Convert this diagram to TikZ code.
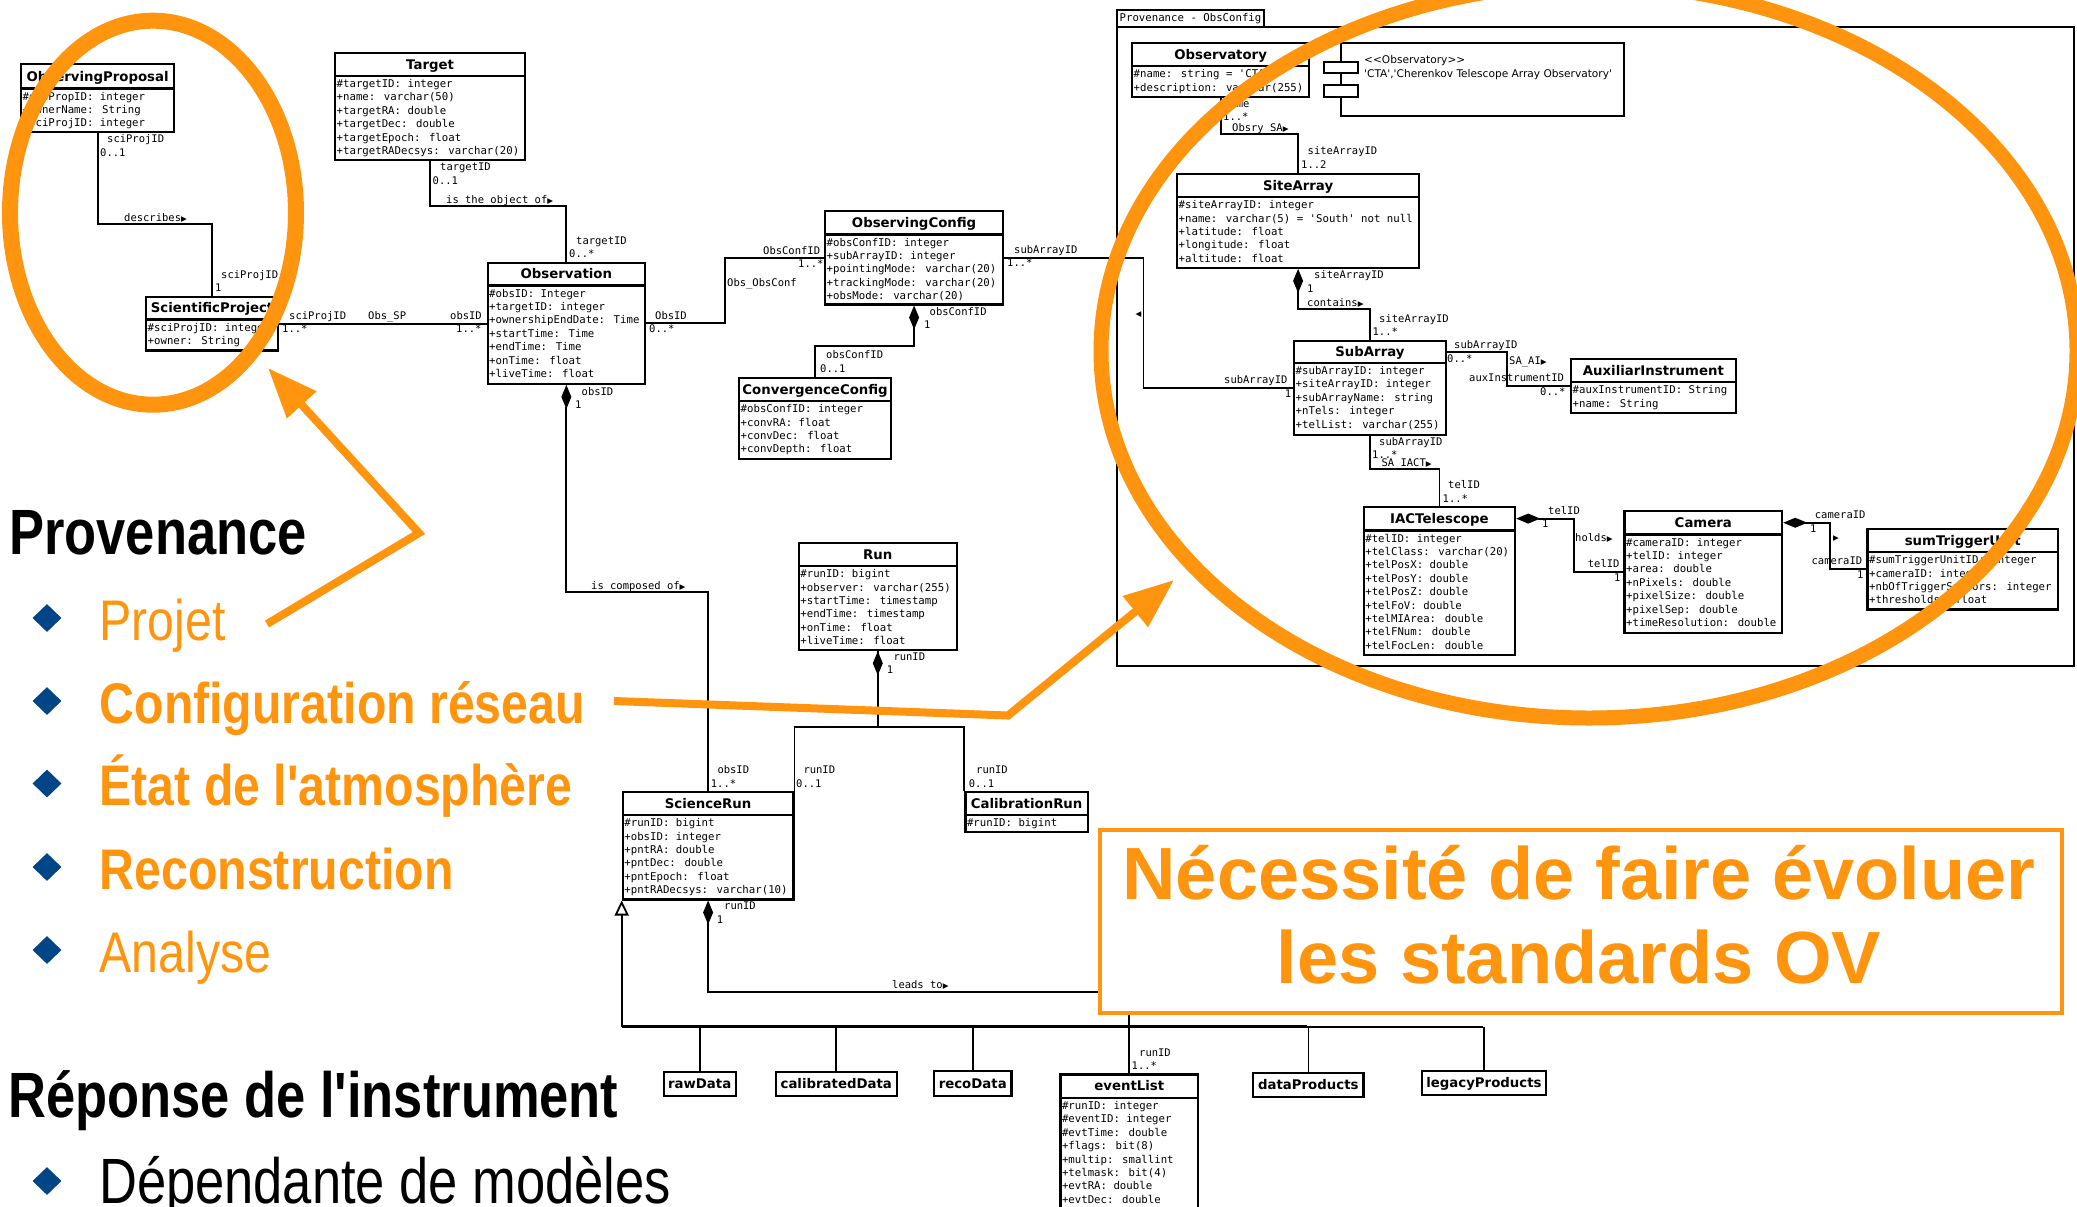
\documentclass[tikz,border=0pt]{standalone}
\usepackage{fontspec}
\usetikzlibrary{arrows.meta,shapes.geometric}
\newfontfamily\monof[Ligatures=TeXOff]{DejaVu Sans Mono}
\newfontfamily\titlef[Ligatures=TeXOff]{DejaVu Sans}
\newfontfamily\narrowf[FakeStretch=0.82,Ligatures=TeXOff]{Liberation Sans}
\newfontfamily\itemf[FakeStretch=0.842,Ligatures=TeXOff]{Liberation Sans}
\newfontfamily\boxf{Liberation Sans}
\definecolor{ora}{RGB}{255,149,14}
\definecolor{bul}{RGB}{0,69,134}
\newcommand\rtri{{\titlef\fontsize{7.5}{8}\selectfont ▶}}
\newcount\lblc
\newcommand\lbl[3]{\global\advance\lblc by 1\relax\node[lblstyle] (lbl\the\lblc) at (#1,{#2+3.7}) {#3};}
\newcommand\umlclass[8]{%
 \node[classbox,minimum width={(#4)-(#2)},minimum height={(#6)-(#3)}] (#1) at (#2,#3) {};%
 \node[titlebox,minimum width={(#4)-(#2)},minimum height={(#5)-(#3)}] (#1-t) at (#2,#3) {#7};%
 \node[rowsbox] (#1-r) at ({#2+2.5},{#5+3.5}) {\rule{0pt}{9pt}#8};}
\newcommand\umlsimple[6]{\node[titlebox,minimum width={(#4)-(#2)},minimum height={(#5)-(#3)}] (#1) at (#2,#3) {#6};}
\begin{document}
\begin{tikzpicture}[x=1pt,y=-1pt,
  classbox/.style={draw,line width=2.2pt,rectangle,inner sep=0pt,anchor=north west,fill=white},
  titlebox/.style={draw,line width=2.2pt,rectangle,inner sep=0pt,anchor=north west,fill=white,
    font=\titlef\bfseries\fontsize{13.3}{14}\selectfont,text height=9.7pt,text depth=0pt},
  rowsbox/.style={anchor=north west,inner sep=0pt,align=left,font=\monof\fontsize{10.7}{13.4}\selectfont},
  lblstyle/.style={anchor=base west,inner sep=0pt,font=\monof\fontsize{10.5}{12}\selectfont},
  conn/.style={line width=1.8pt},
  compo/.style={arrows={Diamond[length=24pt,width=10pt]-}},
  gen/.style={arrows={Triangle[open,length=15pt,width=14pt]-}},
  bullet/.style={diamond,fill=bul,minimum width=29pt,minimum height=28pt,inner sep=0pt},
  itemtxt/.style={anchor=base west,inner sep=0pt,text=ora},
  oarrow/.style={draw=ora,line width=8pt,line join=miter,-{Triangle[length=50pt,width=38pt]}}
]
\useasboundingbox (0,0) rectangle (2077,1207);
\clip (0,0) rectangle (2077,1207);
\fill[white] (0,0) rectangle (2077,1207);

% ---------- frame ----------
\node[draw,line width=2pt,anchor=north west,minimum width=957,minimum height=639,inner sep=0pt] (frame) at (1116,26) {};
\node[draw,line width=2pt,anchor=north west,minimum width=147,minimum height=16.7,inner sep=0pt,
  font=\monof\fontsize{10.7}{12}\selectfont] (frametab) at (1116,9.3) {Provenance - ObsConfig};

% ---------- classes ----------
\umlclass{obsprop}{20}{63.3}{173}{87.3}{130.7}{ObservingProposal}{\#obsPropID: integer\\+ownerName: String\\+sciProjID: integer}
\umlclass{target}{334}{51.7}{524}{74.7}{159}{Target}{\#targetID: integer\\+name: varchar(50)\\+targetRA: double\\+targetDec: double\\+targetEpoch: float\\+targetRADecsys: varchar(20)}
\umlclass{sciproj}{145}{295.7}{277}{318.3}{349.3}{ScientificProject}{\#sciProjID: integer\\+owner: String}
\umlclass{obs}{486.5}{261.7}{644}{284.3}{382.7}{Observation}{\#obsID: Integer\\+targetID: integer\\+ownershipEndDate: Time\\+startTime: Time\\+endTime: Time\\+onTime: float\\+liveTime: float}
\umlclass{obsconf}{824}{210}{1002}{233.3}{303.3}{ObservingConfig}{\#obsConfID: integer\\+subArrayID: integer\\+pointingMode: varchar(20)\\+trackingMode: varchar(20)\\+obsMode: varchar(20)}
\umlclass{convconf}{738}{376.7}{890}{400}{458}{ConvergenceConfig}{\#obsConfID: integer\\+convRA: float\\+convDec: float\\+convDepth: float}
\umlclass{observatory}{1131}{41.7}{1308}{65}{96}{Observatory}{\#name: string = 'CTA'\\+description: varchar(255)}
\umlclass{sitearray}{1176}{172.7}{1418}{196}{266.7}{SiteArray}{\#siteArrayID: integer\\+name: varchar(5) = 'South' not null\\+latitude: float\\+longitude: float\\+altitude: float}
\umlclass{subarray}{1293}{339.7}{1444.7}{361.7}{434}{SubArray}{\#subArrayID: integer\\+siteArrayID: integer\\+subArrayName: string\\+nTels: integer\\+telList: varchar(255)}
\umlclass{auxinst}{1570}{357.7}{1734.5}{381}{411.7}{AuxiliarInstrument}{\#auxInstrumentID: String\\+name: String}
\umlclass{iact}{1362.6}{505.7}{1514}{529.3}{653.7}{IACTelescope}{\#telID: integer\\+telClass: varchar(20)\\+telPosX: double\\+telPosY: double\\+telPosZ: double\\+telFoV: double\\+telMIArea: double\\+telFNum: double\\+telFocLen: double}
\umlclass{camera}{1623.4}{510}{1781}{533.3}{631.7}{Camera}{\#cameraID: integer\\+telID: integer\\+area: double\\+nPixels: double\\+pixelSize: double\\+pixelSep: double\\+timeResolution: double}
\umlclass{sumtrig}{1866.4}{527.7}{2056.8}{551}{608.3}{sumTriggerUnit}{\#sumTriggerUnitID: integer\\+cameraID: integer\\+nbOfTriggerSectors: integer\\+thresholds: float}
\umlclass{run}{797.7}{541.7}{955.7}{565}{649}{Run}{\#runID: bigint\\+observer: varchar(255)\\+startTime: timestamp\\+endTime: timestamp\\+onTime: float\\+liveTime: float}
\umlclass{scirun}{621.7}{790.7}{792.3}{814}{898.3}{ScienceRun}{\#runID: bigint\\+obsID: integer\\+pntRA: double\\+pntDec: double\\+pntEpoch: float\\+pntRADecsys: varchar(10)}
\umlclass{calrun}{964.3}{790.7}{1086.7}{814}{831}{CalibrationRun}{\#runID: bigint}
\umlclass{eventlist}{1059.3}{1073.3}{1197}{1096.7}{1240}{eventList}{\#runID: integer\\\#eventID: integer\\\#evtTime: double\\+flags: bit(8)\\+multip: smallint\\+telmask: bit(4)\\+evtRA: double\\+evtDec: double}
\umlsimple{rawdata}{662.5}{1071}{734.7}{1095}{rawData}
\umlsimple{calibdata}{774.5}{1071}{895.8}{1095}{calibratedData}
\umlsimple{recodata}{933}{1070}{1010.3}{1095}{recoData}
\umlsimple{dataprod}{1252}{1071.7}{1362.4}{1095.7}{dataProducts}
\umlsimple{legacyprod}{1420.6}{1070}{1545}{1094}{legacyProducts}

% component
\node[draw,line width=2pt,anchor=north west,minimum width=283,minimum height=73.3,inner sep=0pt] (comp) at (1340,41.7) {};
\node[draw,fill=white,line width=2pt,anchor=north west,minimum width=33.6,minimum height=11,inner sep=0pt] (compa) at (1323,60.7) {};
\node[draw,fill=white,line width=2pt,anchor=north west,minimum width=33.6,minimum height=11.7,inner sep=0pt] (compb) at (1323,84.3) {};
\node[anchor=base west,inner sep=0pt,font=\titlef\fontsize{10.6}{12}\selectfont] (compst) at (1364,63.8) {<{}<Observatory>{}>};
\node[anchor=base west,inner sep=0pt,font=\titlef\fontsize{10.6}{12}\selectfont] (comptx) at (1364,77.1) {'CTA','Cherenkov Telescope Array Observatory'};

% ---------- connectors ----------
\coordinate (cop) at (150,224);
\coordinate (ctg) at (500,205.7);
\coordinate (cobc) at (725,290);
\coordinate (cocc) at (860,345.7);
\coordinate (cosa) at (1143.5,300);
\coordinate (cosy) at (1260,134.3);
\coordinate (csasb) at (1330,309);
\coordinate (csaai) at (1506.7,370);
\coordinate (csai) at (1400,469.3);
\coordinate (cic) at (1573.6,540);
\coordinate (ccs) at (1830,545);
\coordinate (cosr) at (640,592.3);
\coordinate (crs) at (830,726.7);
\coordinate (crc) at (920,726.7);
\coordinate (cle) at (900,991.7);
\coordinate (bus0) at (621.7,1026.7);
\coordinate (bus1) at (1307.3,1026.7);
\coordinate (bus2) at (1483,1026.7);

\draw[conn] (obsprop.south) |- (cop) -| (sciproj.north);
\draw[conn] (sciproj.east) -- (sciproj.east -| obs.west);
\draw[conn] (target.south) |- (ctg) -| (obs.north);
\draw[conn] (obs.east) -| (cobc) |- (obsconf.west);
\draw[conn,compo] (obsconf.south) |- (cocc) -| (convconf.north);
\draw[conn] (obsconf.east) -| (cosa) |- (subarray.west);
\draw[conn] (observatory.south) |- (cosy) -| (sitearray.north);
\draw[conn,compo] (sitearray.south) |- (csasb) -| (subarray.north);
\draw[conn] (subarray-t.east) -| (csaai) |- (auxinst.west);
\draw[conn] (subarray.south) |- (csai) -| (iact.north);
\draw[conn,compo] (iact-t.east) -| (cic) |- (camera.west);
\draw[conn,compo] (camera-t.east) -| (ccs) |- (sumtrig.west);
\draw[conn,compo] (obs.south) |- (cosr) -| (scirun.north);
\draw[conn] (run.south) |- (crc) -| (calrun.north west);
\draw[conn,compo] (run.south) |- (crs) -| (scirun.north east);
\draw[conn,compo] (scirun.south) |- (cle) -| (eventlist.north);
\draw[conn,gen] (scirun.south west) -- (bus0);
\draw[line width=2.8pt] (bus0) -- (bus1);
\draw[line width=1.6pt] (bus1) -- (bus2);
\foreach \n in {rawdata,calibdata,recodata,dataprod,legacyprod}
  \draw[line width=1.6pt] (\n.north |- bus0) -- (\n.north);

% ---------- labels ----------
\lbl{107}{138.7}{sciProjID}
\lbl{100}{152.3}{0..1}
\lbl{124}{217.7}{describes\rtri}
\lbl{221}{274.3}{sciProjID}
\lbl{215}{288}{1}
\lbl{289}{315.7}{sciProjID}
\lbl{282}{329}{1..*}
\lbl{368}{315.7}{Obs\_SP}
\lbl{450}{315.7}{obsID}
\lbl{456}{329}{1..*}
\lbl{440}{166.3}{targetID}
\lbl{432.5}{180.3}{0..1}
\lbl{446}{199.3}{is the object of\rtri}
\lbl{576}{240.7}{targetID}
\lbl{569}{254}{0..*}
\lbl{655}{316}{ObsID}
\lbl{649}{329}{0..*}
\lbl{727}{282.7}{Obs\_ObsConf}
\lbl{763}{250.7}{ObsConfID}
\lbl{798}{264}{1..*}
\lbl{929.5}{311.7}{obsConfID}
\lbl{924}{325}{1}
\lbl{826}{355}{obsConfID}
\lbl{820}{368.7}{0..1}
\lbl{581.5}{391.7}{obsID}
\lbl{575}{405}{1}
\lbl{591}{585.7}{is composed of\rtri}
\lbl{717.3}{769.3}{obsID}
\lbl{710.7}{783.3}{1..*}
\lbl{1014}{249.5}{subArrayID}
\lbl{1007}{263}{1..*}
\lbl{1224}{380}{subArrayID}
\lbl{1284.7}{393.3}{1}
\lbl{1224}{103.3}{name}
\lbl{1223}{116.7}{1..*}
\lbl{1232}{127.7}{Obsry\_SA\rtri}
\lbl{1307.5}{151}{siteArrayID}
\lbl{1301}{164.3}{1..2}
\lbl{1314}{274.5}{siteArrayID}
\lbl{1307}{288.3}{1}
\lbl{1307}{302.3}{contains\rtri}
\lbl{1379}{318.3}{siteArrayID}
\lbl{1372.4}{331.7}{1..*}
\lbl{1454}{344.7}{subArrayID}
\lbl{1447}{358.3}{0..*}
\lbl{1509}{361}{SA\_AI\rtri}
\lbl{1469}{378}{auxInstrumentID}
\lbl{1540}{392}{0..*}
\lbl{1379}{441.7}{subArrayID}
\lbl{1372}{454.3}{1..*}
\lbl{1381.4}{462.3}{SA\_IACT\rtri}
\lbl{1448}{484.3}{telID}
\lbl{1442.5}{498.3}{1..*}
\lbl{1548}{510.7}{telID}
\lbl{1542}{524}{1}
\lbl{1575}{537.7}{holds\rtri}
\lbl{1587.7}{563.3}{telID}
\lbl{1614}{577.3}{1}
\lbl{1814.7}{515}{cameraID}
\lbl{1810}{528.3}{1}
\lbl{1811.4}{561}{cameraID}
\lbl{1857}{574.3}{1}
\lbl{893.3}{656.7}{runID}
\lbl{886.7}{670}{1}
\lbl{803.3}{769.3}{runID}
\lbl{796}{783.3}{0..1}
\lbl{976}{769.3}{runID}
\lbl{968.7}{783.3}{0..1}
\lbl{724}{906}{runID}
\lbl{716.7}{919.3}{1}
\lbl{892}{984.3}{leads to\rtri}
\lbl{1139}{1052.3}{runID}
\lbl{1131.5}{1065.7}{1..*}
\node[inner sep=0pt,font=\titlef\fontsize{7.5}{8}\selectfont] (mk1) at (1138.6,315) {◀};
\node[inner sep=0pt,font=\titlef\fontsize{7.5}{8}\selectfont] (mk2) at (1836,538.3) {▶};

% ---------- orange box ----------
\node[draw=ora,line width=4pt,fill=white,anchor=north west,minimum width=962,minimum height=182.4,inner sep=0pt] (ovbox) at (1098,828.3) {};
\node[anchor=base,inner sep=0pt,text=ora,font=\boxf\bfseries\fontsize{74}{80}\selectfont] (ov1) at (1579,899) {Nécessité de faire évoluer};
\node[anchor=base,inner sep=0pt,text=ora,font=\boxf\bfseries\fontsize{74}{80}\selectfont] (ov2) at (1579,983.3) {les standards OV};

% ---------- left text ----------
\node[anchor=base west,inner sep=0pt,font=\narrowf\bfseries\fontsize{64}{70}\selectfont] (prov) at (9,554) {Provenance};
\node[bullet] (b1) at (47,618) {};
\node[bullet] (b2) at (47,701) {};
\node[bullet] (b3) at (47,783.5) {};
\node[bullet] (b4) at (47,867) {};
\node[bullet] (b5) at (47,950) {};
\node[itemtxt,font=\itemf\fontsize{57.3}{60}\selectfont] (i1) at (99.5,640) {Projet};
\node[itemtxt,font=\itemf\bfseries\fontsize{57.3}{60}\selectfont] (i2) at (99.5,723) {Configuration réseau};
\node[itemtxt,font=\itemf\bfseries\fontsize{57.3}{60}\selectfont] (i3) at (99.5,805.5) {État de l'atmosphère};
\node[itemtxt,font=\itemf\bfseries\fontsize{57.3}{60}\selectfont] (i4) at (99.5,889) {Reconstruction};
\node[itemtxt,font=\itemf\fontsize{57.3}{60}\selectfont] (i5) at (99.5,972) {Analyse};
\node[anchor=base west,inner sep=0pt,font=\narrowf\bfseries\fontsize{64}{70}\selectfont] (rep) at (8,1117) {Réponse de l'instrument};
\node[bullet] (b6) at (47,1181) {};
\node[anchor=base west,inner sep=0pt,font=\narrowf\fontsize{64}{66}\selectfont] (dep) at (99,1203) {Dépendante de modèles};

% ---------- highlights ----------
\draw[ora,line width=16pt] (153,212.7) ellipse [x radius=143,y radius=192];
\draw[ora,line width=15pt] (1589,351) ellipse [x radius=488,y radius=367];
\coordinate (pa0) at (267,624);
\coordinate (pa1) at (419,533);
\coordinate (pa2) at (268,368);
\draw[oarrow] (pa0) -- (pa1) -- (pa2);
\coordinate (ca0) at (614,701);
\coordinate (ca1) at (1008,715.5);
\coordinate (ca2) at (1174,580);
\draw[oarrow] (ca0) -- (ca1) -- (ca2);
\end{tikzpicture}
\end{document}
